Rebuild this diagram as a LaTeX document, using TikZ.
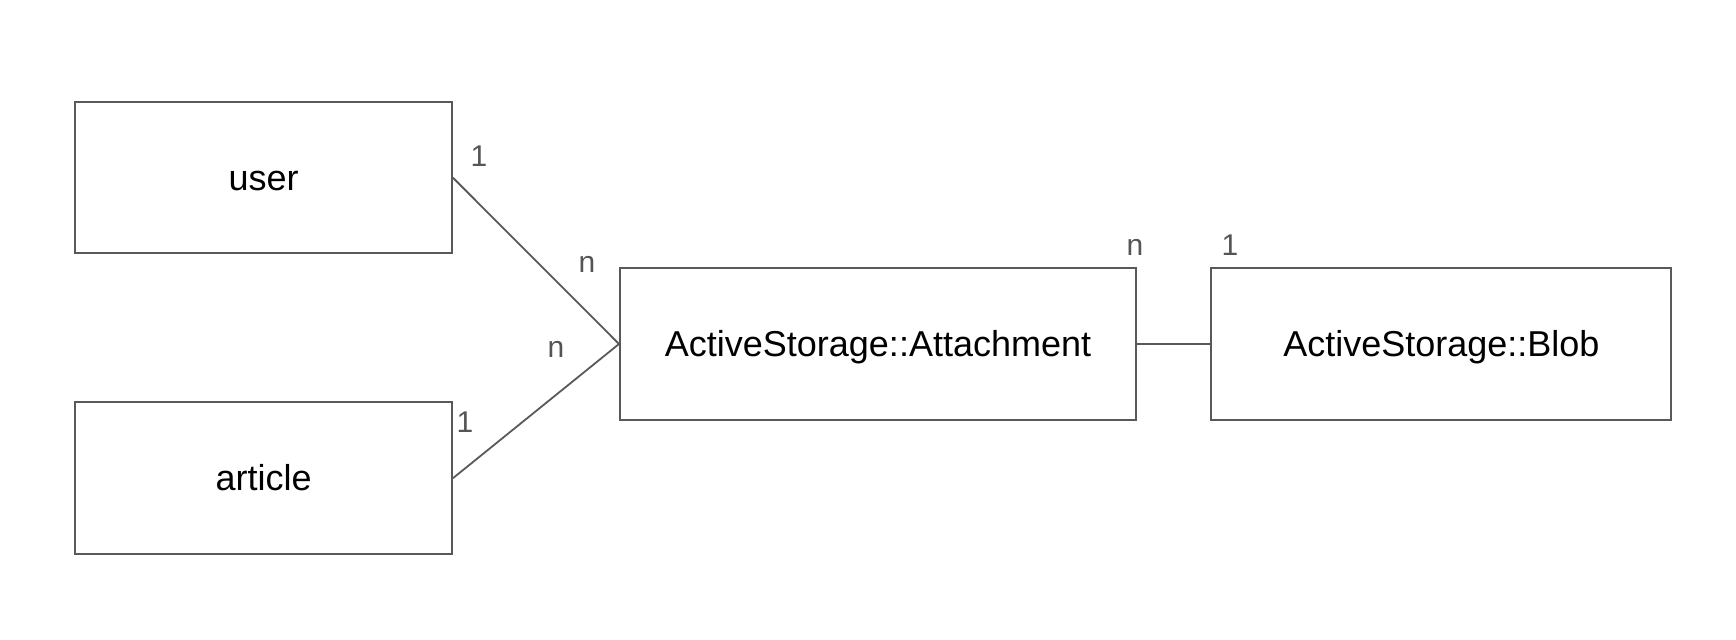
\documentclass[tikz,border=0pt]{standalone}
\usepackage{fontspec}
\setmainfont{Liberation Sans}
\definecolor{lineagris}{HTML}{595959}
\definecolor{textogris}{HTML}{555555}
\begin{document}
\begin{tikzpicture}[x=0.5pt, y=-0.5pt]
    % Estilo para las entidades
    \tikzstyle{entity_style} = [rectangle, draw=lineagris, line width=1pt, fill=white, minimum height=75.75pt, text height=12.4pt, text depth=0pt, font=\fontsize{18}{20}\selectfont, text=black]

    % Estilo para las relaciones
    \tikzstyle{edge_style} = [-, line width=0.9pt, draw=lineagris]

    % Estilo para las cardinalidades
    \tikzstyle{card_style} = [inner sep=0pt, font=\fontsize{15}{17}\selectfont, text=textogris]

    \useasboundingbox (0,0) rectangle (1736,640);

    % Definición de las entidades
    \node[entity_style, minimum width=188.25pt] (user) at (263.7, 177.7) {user};
    \node[entity_style, minimum width=188.25pt] (article) at (263.7, 478.2) {article};
    \node[entity_style, minimum width=258pt] (attachment) at (878, 344) {ActiveStorage::Attachment};
    \node[entity_style, minimum width=230pt] (blob) at (1441.4, 344) {ActiveStorage::Blob};

    % Relaciones
    \draw[edge_style] (user.east) -- (attachment.west);
    \draw[edge_style] (article.east) -- (attachment.west);
    \draw[edge_style] (attachment.east) -- (blob.west);

    % Cardinalidades
    \node[card_style] (user_one) at (479, 156) {1};
    \node[card_style] (user_many) at (587, 264) {n};
    \node[card_style] (article_many) at (556, 349) {n};
    \node[card_style] (article_one) at (465, 422) {1};
    \node[card_style] (blob_many) at (1135, 247) {n};
    \node[card_style] (blob_one) at (1230, 245) {1};

\end{tikzpicture}
\end{document}
